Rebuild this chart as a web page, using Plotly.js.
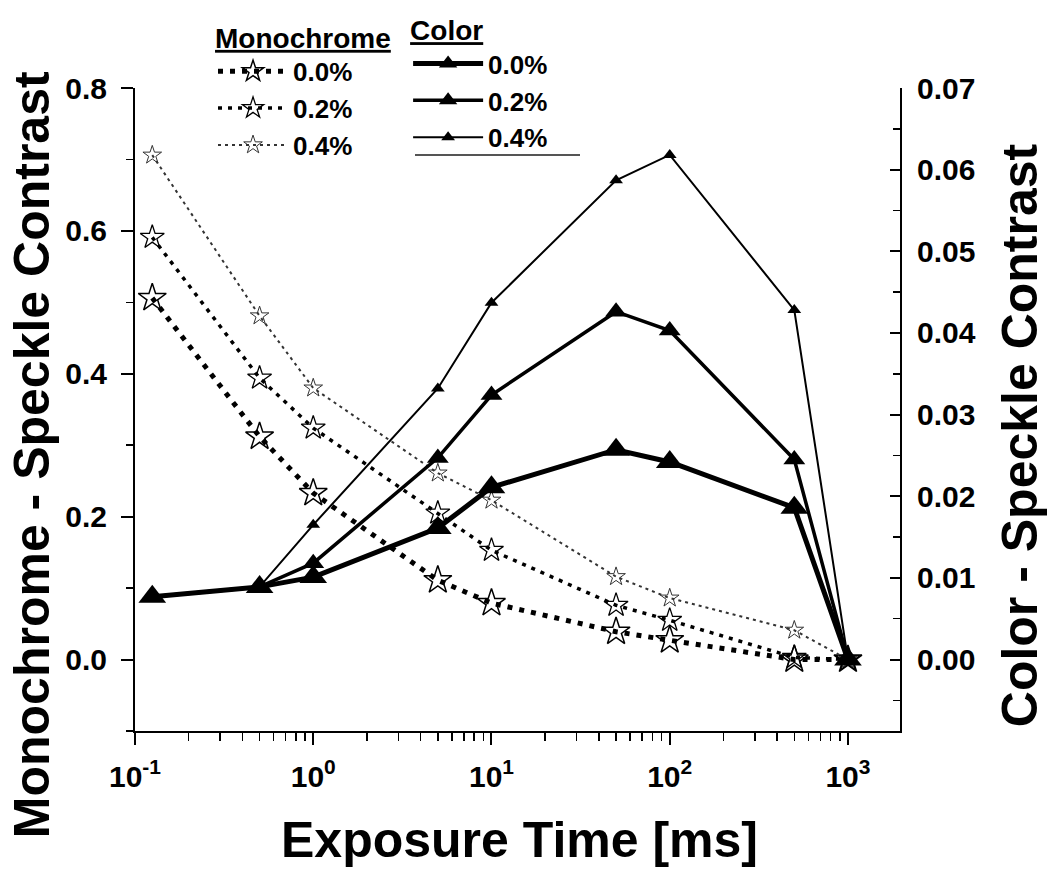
<!DOCTYPE html>
<html>
<head>
<meta charset="utf-8">
<script src="https://cdn.plot.ly/plotly-3.0.1.min.js"></script>
<style>html,body{margin:0;padding:0;background:#fff;}</style>
</head>
<body>
<div id="chart" style="width:1050px;height:872px;"></div>
<script>
// ---- data ----
const exposureTime = [0.125, 0.5, 1, 5, 10, 50, 100, 500, 1000];

const mono00 = [0.506, 0.312, 0.233, 0.111, 0.079, 0.039, 0.027, 0.0, 0.0];
const mono02 = [0.591, 0.394, 0.324, 0.205, 0.153, 0.076, 0.055, 0.003, 0.0];
const mono04 = [0.706, 0.481, 0.380, 0.261, 0.223, 0.116, 0.086, 0.041, 0.0];

const color00 = [0.0077, 0.0089, 0.0101, 0.0161, 0.0211, 0.0257, 0.0242, 0.0186, 0.0];
const color02 = [0.0077, 0.0089, 0.0118, 0.0247, 0.0324, 0.0426, 0.0403, 0.0245, 0.0];
const color04 = [0.0077, 0.0089, 0.0165, 0.0332, 0.0437, 0.0587, 0.0618, 0.0428, 0.0];

const seriesNames = ['0.0%', '0.2%', '0.4%'];
const xTickVals = [0.1, 1, 10, 100, 1000];
const xTickText = ['10<sup>-1</sup>', '10<sup>0</sup>', '10<sup>1</sup>', '10<sup>2</sup>', '10<sup>3</sup>'];

// ---- styling ----
const FONT = 'Liberation Sans, Arial, sans-serif';
const minorX = [];
[0.1, 1, 10, 100, 1000].forEach(d => { for (let k = 2; k <= 9; k++) { if (d * k < 2000) minorX.push(d * k); } });

const traces = [
  {x: exposureTime, y: mono00, name: seriesNames[0], legend: 'legend', yaxis: 'y',
   mode: 'lines+markers', line: {color: '#000', width: 5, dash: '5px,7px'},
   marker: {symbol: 'star-open', size: 21, color: '#000', line: {width: 1.5, color: '#000'}}},
  {x: exposureTime, y: mono02, name: seriesNames[1], legend: 'legend', yaxis: 'y',
   mode: 'lines+markers', line: {color: '#000', width: 3.5, dash: '4px,6px'},
   marker: {symbol: 'star-open', size: 18, color: '#000', line: {width: 1.3, color: '#000'}}},
  {x: exposureTime, y: mono04, name: seriesNames[2], legend: 'legend', yaxis: 'y',
   mode: 'lines+markers', line: {color: '#333', width: 2, dash: '3px,4px'},
   marker: {symbol: 'star-open', size: 14, color: '#333', line: {width: 1, color: '#333'}}},
  {x: exposureTime, y: color00, name: seriesNames[0], legend: 'legend2', yaxis: 'y2',
   mode: 'lines+markers', line: {color: '#000', width: 5},
   marker: {symbol: 'triangle-up', size: 24, color: '#000'}},
  {x: exposureTime, y: color02, name: seriesNames[1], legend: 'legend2', yaxis: 'y2',
   mode: 'lines+markers', line: {color: '#000', width: 3.5},
   marker: {symbol: 'triangle-up', size: 19, color: '#000'}},
  {x: exposureTime, y: color04, name: seriesNames[2], legend: 'legend2', yaxis: 'y2',
   mode: 'lines+markers', line: {color: '#000', width: 2},
   marker: {symbol: 'triangle-up', size: 12, color: '#000'}}
];

const tickFont = {family: FONT, size: 30, color: '#000', weight: 'bold'};
const titleFont = {family: FONT, size: 50, color: '#000', weight: 'bold'};
const legFont = {family: FONT, size: 26, color: '#000', weight: 'bold'};
const legTitleFont = {family: FONT, size: 28, color: '#000', weight: 'bold', lineposition: 'under'};

const layout = {
  width: 1050, height: 872, autosize: false,
  paper_bgcolor: '#fff', plot_bgcolor: '#fff',
  margin: {l: 135, r: 150, t: 88, b: 141, pad: 0, autoexpand: false},
  showlegend: true,
  xaxis: {
    type: 'log', range: [-1, 3.292],
    tickmode: 'array', tickvals: xTickVals, ticktext: xTickText,
    ticks: 'outside', ticklen: 12, tickwidth: 2, tickcolor: '#000',
    minor: {tickmode: 'array', tickvals: minorX, ticks: 'outside', ticklen: 8, tickwidth: 1.5, tickcolor: '#000', showgrid: false},
    showline: true, linecolor: '#000', linewidth: 2, mirror: false,
    showgrid: false, zeroline: false, automargin: false,
    tickfont: tickFont, ticklabelstandoff: 6
  },
  yaxis: {
    range: [-0.1, 0.8], tick0: 0, dtick: 0.2, tickformat: '.1f',
    ticks: 'outside', ticklen: 12, tickwidth: 2, tickcolor: '#000',
    minor: {dtick: 0.1, tick0: 0, ticks: 'outside', ticklen: 7, tickwidth: 1.5, tickcolor: '#000', showgrid: false},
    showline: true, linecolor: '#000', linewidth: 2,
    showgrid: false, zeroline: false, automargin: false,
    tickfont: tickFont, ticklabelstandoff: 8
  },
  yaxis2: {
    overlaying: 'y', side: 'right', anchor: 'x',
    range: [-0.00875, 0.07], tick0: 0, dtick: 0.01, tickformat: '.2f',
    ticks: 'inside', ticklen: 10, tickwidth: 2, tickcolor: '#000',
    minor: {dtick: 0.005, tick0: 0, ticks: 'inside', ticklen: 7, tickwidth: 1.5, tickcolor: '#000', showgrid: false},
    showline: true, linecolor: '#000', linewidth: 2,
    showgrid: false, zeroline: false, automargin: false,
    tickfont: tickFont, ticklabelstandoff: 9
  },
  legend: {
    x: 0.102, y: 1.119, xanchor: 'left', yanchor: 'top',
    bgcolor: 'rgba(0,0,0,0)', borderwidth: 0,
    font: legFont, itemwidth: 70, tracegroupgap: 0,
    title: {text: 'Monochrome', side: 'top', font: legTitleFont}
  },
  legend2: {
    x: 0.357, y: 1.131, xanchor: 'left', yanchor: 'top',
    bgcolor: 'rgba(0,0,0,0)', borderwidth: 0,
    font: legFont, itemwidth: 70, tracegroupgap: 0,
    title: {text: 'Color', side: 'top', font: legTitleFont}
  },
  shapes: [
    {type: 'line', xref: 'paper', yref: 'paper', x0: (415 - 135) / 765, x1: (580 - 135) / 765,
     y0: (731 - 155) / 643, y1: (731 - 155) / 643, line: {color: '#555', width: 2}}
  ],
  annotations: [
    {text: 'Exposure Time [ms]', xref: 'paper', yref: 'paper', x: 0.503, y: -0.1695,
     xanchor: 'center', yanchor: 'middle', showarrow: false, font: titleFont},
    {text: 'Monochrome - Speckle Contrast', xref: 'paper', yref: 'paper', x: -0.1346, y: 0.429,
     xanchor: 'center', yanchor: 'middle', textangle: -90, showarrow: false, font: titleFont},
    {text: 'Color - Speckle Contrast', xref: 'paper', yref: 'paper', x: (1020 - 135) / 765, y: 0.46,
     xanchor: 'center', yanchor: 'middle', textangle: -90, showarrow: false, font: titleFont}
  ]
};

Plotly.newPlot('chart', traces, layout, {displayModeBar: false, staticPlot: true});
</script>
</body>
</html>
